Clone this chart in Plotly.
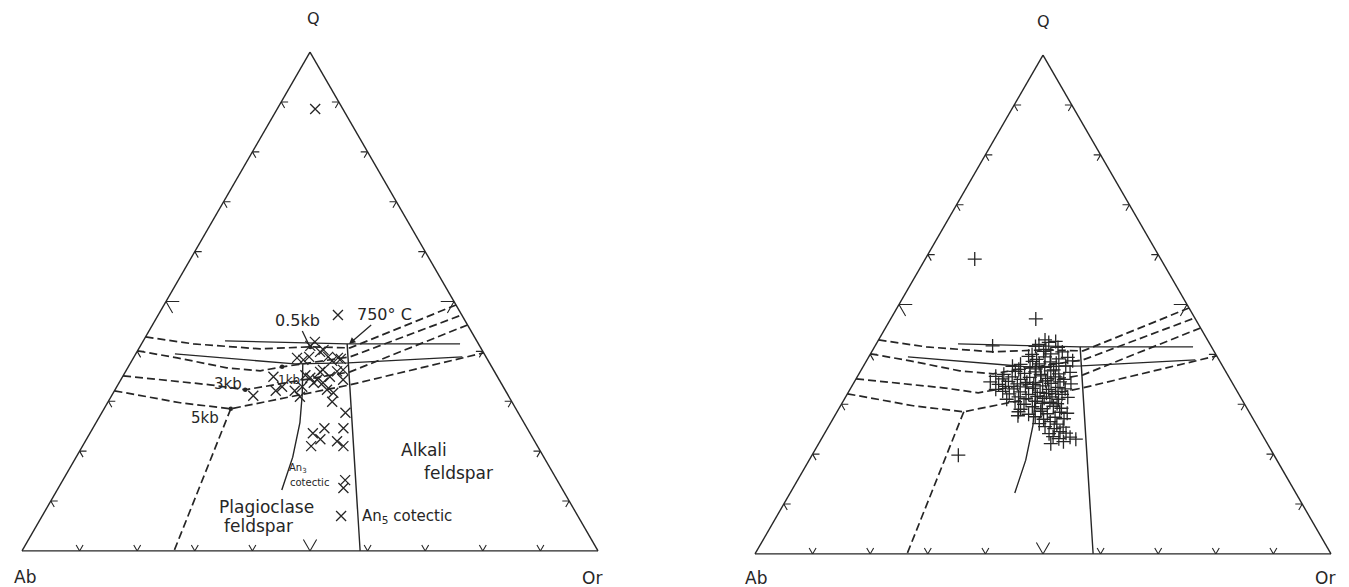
import plotly.graph_objects as go

W, H = 1349, 587
INK = "#262626"
FONT = "DejaVu Sans"

# ---------------------------------------------------------------
# Phase boundaries in the Q-Ab-Or system (wt%); Ab = 100 - Q - Or
# ---------------------------------------------------------------
# quartz-feldspar cotectics at 0.5, 1, 3 and 5 kb (dashed)
cot05_q = [42.9, 41.5, 40.5, 40.9, 40.7, 49.3]
cot05_or = [0.0, 9.0, 21.1, 29.6, 36.6, 50.7]
cot1_q = [40.1, 38.7, 36.7, 36.1, 36.9, 38.9, 47.3]
cot1_or = [0.0, 7.6, 17.2, 23.3, 26.7, 37.5, 52.7]
cot3_q = [35.1, 33.3, 32.3, 35.9, 45.3]
cot3_or = [0.0, 16.0, 22.6, 39.0, 54.7]
cot5_q = [32.1, 29.7, 28.5, 33.3, 39.7]
cot5_or = [0.0, 12.6, 22.0, 40.3, 60.3]
# two-feldspar boundary below the 5 kb minimum (dashed)
fsp5_q = [28.5, 0.0]
fsp5_or = [22.0, 26.4]
# An5 and An3 cotectics (solid)
an5_q = [41.5, 0.0]
an5_or = [35.7, 58.7]
an3_q = [37.5, 31.3, 25.7, 18.8, 12.2]
an3_or = [30.0, 33.0, 35.4, 37.6, 39.0]
# solid traverses across the cotectic band
iso1_q = [42.1, 41.5, 41.5]
iso1_or = [14.2, 35.7, 55.3]
iso2_q = [39.5, 37.5, 37.7, 38.9]
iso2_or = [6.8, 28.6, 37.8, 57.0]
# isobaric minima (0.5, 1, 3, 5 kb)
min_q = [40.9, 36.9, 32.3, 28.5]
min_or = [29.6, 26.7, 22.6, 22.0]

# edge tick positions (%), the middle one drawn larger
tick_pos = [10, 20, 30, 40, 50, 60, 70, 80, 90]

# ---------------------------------------------------------------
# Sample compositions
# ---------------------------------------------------------------
# granites, left diagram (X)
gr_q = [88.6, 47.3, 41.9, 41.1, 39.9, 38.9, 38.7, 38.7, 38.3, 36.3,
        34.9, 34.7, 34.3, 33.7, 32.9, 32.3, 31.7, 36.3, 34.3, 34.9,
        32.9, 31.1, 30.9, 27.7, 24.6, 23.6, 22.4, 21.0, 24.6, 22.0,
        21.0, 14.2, 12.6, 7.0, 40.3, 38.1, 38.9, 35.2, 35.9, 36.0,
        33.7, 32.1, 29.9, 32.1, 38.5]
gr_or = [6.6, 31.2, 29.9, 29.5, 31.8, 33.7, 35.5, 28.4, 29.7, 34.1,
         36.0, 32.7, 34.1, 35.4, 32.2, 36.8, 38.2, 37.6, 38.6, 26.2,
         28.7, 24.6, 32.8, 42.3, 40.2, 38.7, 40.6, 39.7, 43.5, 43.7,
         45.3, 49.0, 49.5, 51.9, 32.2, 34.8, 30.4, 31.6, 33.8, 36.7,
         33.8, 31.3, 38.9, 28.0, 36.1]

# granites, right diagram (+)
pl_q = [59.1, 47.1, 19.8, 41.7, 27.7,
        42.9, 42.4, 42.0, 42.6, 41.6, 41.0, 41.4,
        40.0, 40.6, 40.1, 40.5,
        39.6, 39.0, 39.5, 39.1, 39.4,
        38.0, 38.6, 38.1, 38.5, 38.2, 38.7,
        37.6, 37.0, 37.5, 37.1, 37.4, 36.9, 37.7,
        36.0, 36.6, 36.2, 36.5, 36.0, 36.7, 36.1, 36.4,
        35.6, 35.1, 35.5, 35.0, 35.4, 35.7, 35.2, 35.5, 35.0,
        34.5, 34.0, 34.6, 34.1, 34.4, 34.0, 34.7, 34.2, 34.5, 34.1,
        33.0, 33.6, 33.1, 33.5, 33.2, 33.7, 33.0, 33.4, 33.1,
        32.6, 32.1, 32.5, 32.0, 32.4, 32.2, 32.6, 32.0,
        31.0, 31.5, 31.1, 31.6, 31.2, 31.5, 31.0, 31.4,
        30.5, 30.0, 30.6, 30.2, 30.4, 30.1,
        29.0, 29.5, 29.1, 29.6, 29.2,
        28.5, 28.0, 28.6, 28.1, 28.4, 28.2,
        27.5, 27.0, 27.4, 27.1,
        26.1, 26.5, 26.0,
        25.5, 25.1, 25.4,
        24.1, 24.5, 24.2,
        23.5, 23.1, 23.4, 23.0,
        22.1, 22.5]
pl_or = [8.6, 25.2, 25.4, 20.4, 31.8,
         28.9, 29.8, 28.3, 30.9, 27.9, 30.0, 31.9,
         28.1, 29.8, 31.3, 33.1,
         27.7, 29.4, 30.6, 33.2, 34.6,
         27.1, 28.9, 30.3, 32.0, 33.2, 35.8,
         25.9, 27.3, 29.0, 30.2, 31.6, 33.4, 35.1,
         25.2, 26.9, 28.7, 30.4, 31.6, 33.0, 34.7, 36.5,
         24.0, 25.4, 26.9, 28.6, 30.0, 31.8, 33.2, 34.4, 36.1,
         23.6, 25.3, 26.7, 28.5, 30.0, 31.4, 33.1, 34.3, 35.7, 37.8,
         25.3, 26.7, 28.4, 30.2, 31.6, 33.1, 34.5, 35.9, 37.3,
         26.7, 28.1, 29.8, 31.5, 33.3, 34.5, 35.9, 37.3,
         28.2, 30.0, 31.5, 33.2, 34.6, 35.8, 37.2, 38.6,
         29.9, 31.7, 33.4, 34.8, 36.0, 37.4,
         31.6, 33.4, 35.3, 37.0, 38.6,
         31.5, 33.5, 35.3, 36.7, 38.7, 40.1,
         34.9, 36.6, 38.4, 40.1,
         36.3, 38.0, 39.4,
         37.6, 39.4, 40.8,
         39.0, 40.7, 41.9,
         40.0, 41.2, 43.0, 44.2,
         40.3, 42.3]


def ab_of(q, orr):
    return [100 - a - c for a, c in zip(q, orr)]


def edge_ticks(small=1.2, big=2.3):
    """Short grid stubs (chevrons) on the three edges."""
    a, b, c = [], [], []
    for t in tick_pos:
        L = big if t == 50 else small
        segs = [
            [(L, 100 - t - L, t), (0, 100 - t, t), (L, 100 - t, t - L)],        # Ab-Or edge
            [(t, 100 - t - L, L), (t, 100 - t, 0), (t - L, 100 - t, L)],        # Ab-Q edge
            [(t, L, 100 - t - L), (t, 0, 100 - t), (t - L, L, 100 - t)],        # Q-Or edge
        ]
        for seg in segs:
            for p in seg:
                a.append(p[0]); b.append(p[1]); c.append(p[2])
            a.append(None); b.append(None); c.append(None)
    return a, b, c


fig = go.Figure()


def add_line(sub, q, orr, dash=None, width=1.4):
    fig.add_trace(go.Scatterternary(
        a=q, b=ab_of(q, orr), c=orr, mode="lines", subplot=sub,
        line=dict(color=INK, width=width, dash=dash),
        hoverinfo="skip", cliponaxis=False))


DASH = "8px,4px"
for sub in ("ternary", "ternary2"):
    ta, tb, tc = edge_ticks()
    fig.add_trace(go.Scatterternary(a=ta, b=tb, c=tc, mode="lines", subplot=sub,
                                    line=dict(color=INK, width=1.1), hoverinfo="skip",
                                    cliponaxis=False, connectgaps=False))
    for q, orr in ((cot05_q, cot05_or), (cot1_q, cot1_or), (cot3_q, cot3_or),
                   (cot5_q, cot5_or), (fsp5_q, fsp5_or)):
        add_line(sub, q, orr, dash=DASH, width=1.7)
    for q, orr in ((an5_q, an5_or), (an3_q, an3_or), (iso1_q, iso1_or), (iso2_q, iso2_or)):
        add_line(sub, q, orr, width=1.4)

# minima dots (left diagram)
fig.add_trace(go.Scatterternary(a=min_q, b=ab_of(min_q, min_or), c=min_or, mode="markers",
                                subplot="ternary", marker=dict(size=4.5, color=INK),
                                hoverinfo="skip", cliponaxis=False))
# samples
fig.add_trace(go.Scatterternary(a=gr_q, b=ab_of(gr_q, gr_or), c=gr_or, mode="markers",
                                subplot="ternary",
                                marker=dict(symbol="x-thin-open", size=10, color=INK,
                                            line=dict(color=INK, width=1.3)),
                                hoverinfo="skip", cliponaxis=False))
fig.add_trace(go.Scatterternary(a=pl_q, b=ab_of(pl_q, pl_or), c=pl_or, mode="markers",
                                subplot="ternary2",
                                marker=dict(symbol="cross-thin-open", size=10, color=INK,
                                            line=dict(color=INK, width=1.3)),
                                hoverinfo="skip", cliponaxis=False))


def tern(x0, x1, ybot, ytop):
    ax = dict(showline=True, linecolor=INK, linewidth=1.4, ticks="", showticklabels=False,
              showgrid=False, min=0, title=dict(text=""))
    return dict(domain=dict(x=[x0 / W, x1 / W], y=[1 - ybot / H, 1 - ytop / H]),
                sum=100, bgcolor="white", aaxis=ax, baxis=ax, caxis=ax)


def label(text, px, py, size, **kw):
    d = dict(text=text, x=px / W, y=1 - py / H, xref="paper", yref="paper",
             xanchor="center", yanchor="middle", showarrow=False,
             font=dict(family=FONT, size=size, color=INK))
    d.update(kw)
    return d


annotations = [
    label("Q", 313, 18, 16), label("Ab", 25, 577, 17), label("Or", 592, 578, 17),
    label("Q", 1043, 21, 16), label("Ab", 756, 578, 17), label("Or", 1325, 578, 17),
    label("0.5kb", 310, 347, 16, showarrow=True, arrowhead=0, arrowwidth=1.3,
          arrowcolor=INK, ax=-13, ay=-27),
    label("750° C", 349, 344, 16, showarrow=True, arrowhead=2, arrowsize=1, arrowwidth=1.3,
          arrowcolor=INK, ax=35, ay=-30),
    label("3kb", 228, 384, 15),
    label("1kb", 289, 380, 12),
    label("5kb", 205, 418, 15),
    label("An<sub>3</sub>", 298, 468, 10),
    label("cotectic", 309, 482, 10),
    label("Plagioclase", 266, 507, 17),
    label("feldspar", 258, 526, 17),
    label("Alkali", 424, 450, 17),
    label("feldspar", 458, 473, 17),
    label("An<sub>5</sub> cotectic", 407, 516, 15),
]

fig.update_layout(
    width=W, height=H, margin=dict(l=0, r=0, t=0, b=0),
    paper_bgcolor="white", plot_bgcolor="white", showlegend=False,
    ternary=tern(22, 598, 551, 52),
    ternary2=tern(755, 1331, 554, 55),
    annotations=annotations,
)

fig.write_html("out.html")
